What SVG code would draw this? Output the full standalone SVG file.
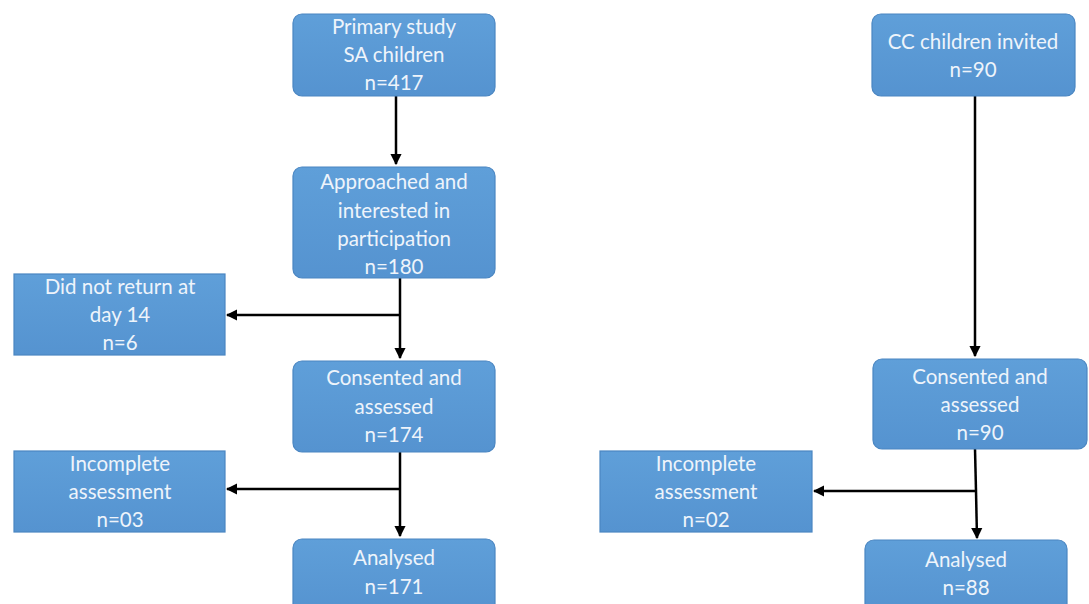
<svg xmlns="http://www.w3.org/2000/svg" width="1089" height="604" viewBox="0 0 1089 604">
<defs>
<linearGradient id="g" x1="0" y1="0" x2="0" y2="1">
<stop offset="0" stop-color="#5f9fd9"/>
<stop offset="1" stop-color="#5593d0"/>
</linearGradient>
<marker id="ah" viewBox="0 0 10 10" refX="9" refY="5" markerWidth="4.6" markerHeight="4.6" orient="auto" markerUnits="strokeWidth">
<path d="M0,0 L10,5 L0,10 Z" fill="#000"/>
</marker>
<style>
.box{fill:url(#g);stroke:#4a86c2;stroke-width:1.2}
.t{font-family:Lato,"Open Sans","Liberation Sans",sans-serif;font-size:20.5px;fill:#eef4fb;text-anchor:middle}
.c{stroke:#000;stroke-width:2.5;fill:none}
.ca{stroke:#000;stroke-width:2.5;fill:none;marker-end:url(#ah)}
</style>
</defs>
<rect width="1089" height="604" fill="#fff"/>
<g id="connectors">
<path class="ca" d="M396,96 L396,164"/>
<path class="ca" d="M400,278 L400,358"/>
<path class="ca" d="M400,315 L227,315"/>
<path class="ca" d="M400,452 L400,536"/>
<path class="ca" d="M400,489 L227,489"/>
<path class="ca" d="M975,96 L975,356"/>
<path class="c" d="M975,449 L976,491"/>
<path class="ca" d="M976,491 L977,538"/>
<path class="ca" d="M976,491 L814,491"/>
</g>
<g id="n1"><rect class="box" x="293" y="14" width="202" height="82" rx="9"/>
<text class="t" x="394" y="34">Primary study</text><text class="t" x="394" y="62">SA children</text><text class="t" x="394" y="90">n=417</text></g>
<g id="n2"><rect class="box" x="293" y="167" width="202" height="111" rx="9"/>
<text class="t" x="394" y="189">Approached and</text><text class="t" x="394" y="218">interested in</text><text class="t" x="394" y="246">participation</text><text class="t" x="394" y="274">n=180</text></g>
<g id="n3"><rect class="box" x="14" y="274" width="211" height="81"/>
<text class="t" x="120" y="294">Did not return at</text><text class="t" x="120" y="322">day 14</text><text class="t" x="120" y="350">n=6</text></g>
<g id="n4"><rect class="box" x="293" y="361" width="202" height="91" rx="9"/>
<text class="t" x="394" y="385">Consented and</text><text class="t" x="394" y="414">assessed</text><text class="t" x="394" y="442">n=174</text></g>
<g id="n5"><rect class="box" x="14" y="451" width="211" height="81"/>
<text class="t" x="120" y="471">Incomplete</text><text class="t" x="120" y="499">assessment</text><text class="t" x="120" y="527">n=03</text></g>
<g id="n6"><rect class="box" x="293" y="539" width="202" height="75" rx="9"/>
<text class="t" x="394" y="565">Analysed</text><text class="t" x="394" y="594">n=171</text></g>
<g id="n7"><rect class="box" x="872" y="14" width="203" height="82" rx="9"/>
<text class="t" x="973" y="49">CC children invited</text><text class="t" x="973" y="77">n=90</text></g>
<g id="n8"><rect class="box" x="873" y="359" width="214" height="90" rx="9"/>
<text class="t" x="980" y="384">Consented and</text><text class="t" x="980" y="412">assessed</text><text class="t" x="980" y="440">n=90</text></g>
<g id="n9"><rect class="box" x="600" y="451" width="212" height="81"/>
<text class="t" x="706" y="471">Incomplete</text><text class="t" x="706" y="499">assessment</text><text class="t" x="706" y="527">n=02</text></g>
<g id="n10"><rect class="box" x="865" y="540" width="202" height="74" rx="9"/>
<text class="t" x="966" y="567">Analysed</text><text class="t" x="966" y="595">n=88</text></g>
</svg>
